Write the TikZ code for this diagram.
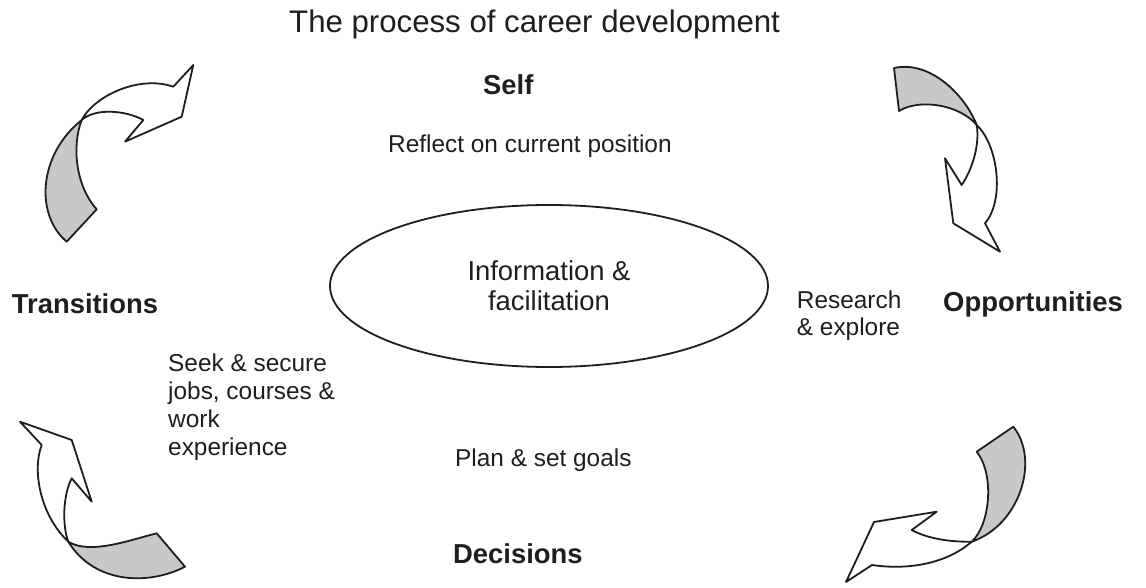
\documentclass[tikz,border=0pt]{standalone}
\usepackage{fontspec}
\setmainfont{Liberation Sans}
\usetikzlibrary{shapes.geometric}
\definecolor{tailgray}{RGB}{200,200,200}
\definecolor{ink}{RGB}{30,30,30}
\begin{document}
\begin{tikzpicture}[x=1pt,y=-1pt,
  ribbon/.style={draw=ink, line width=1.8pt, line join=round},
  back/.style={ribbon, fill=tailgray},
  front/.style={ribbon, fill=white},
  lbl/.style={anchor=base west, inner sep=0pt, text=ink, font=\fontsize{27.4}{32}\selectfont\bfseries},
  body/.style={anchor=base west, inner sep=0pt, text=ink, font=\fontsize{24.4}{27.8}\selectfont},
]
\useasboundingbox (0,0) rectangle (1146,588);

% texts
\node[anchor=base west, inner sep=0pt, text=ink, font=\fontsize{31.2}{36}\selectfont] (title) at (289,33) {The process of career development};
\node[lbl] (self) at (483,95) {Self};
\node[body] (reflect) at (388,153) {Reflect on current position};
\node[draw=ink, line width=1.8pt, ellipse, minimum width=438pt, minimum height=162pt, inner sep=0pt, align=center, text=ink, font=\fontsize{27.4}{30}\selectfont] (info) at (549,286) {Information \&\\facilitation};
\node[lbl] (trans) at (11.7,313) {Transitions};
\node[body] (seek) at (168,371.7) {\begin{tabular}[t]{@{}l@{}}Seek \& secure\\jobs, courses \&\\work\\experience\end{tabular}};
\node[body] (research) at (796.7,308) {\begin{tabular}[t]{@{}l@{}}Research\\\& explore\end{tabular}};
\node[lbl] (opp) at (943,311.7) {Opportunities};
\node[body] (plan) at (455,466.7) {Plan \& set goals};
\node[lbl] (dec) at (453,563) {Decisions};

% arrow top-left
\draw[back] (66.7,241.7) .. controls (35,215) and (38,155) .. (81.7,120) .. controls (72,145) and (75,185) .. (96.7,209.3) -- cycle;
\draw[front] (81.7,120) .. controls (95,95) and (140,75) .. (173.3,86.7) -- (193.3,65) -- (181.7,116.7) -- (125,141.7) -- (143.3,120) .. controls (125,110) and (95,108) .. (81.7,120) -- cycle;

% arrow top-right
\draw[back] (894,68) .. controls (930,60) and (965,95) .. (976.7,125) .. controls (960,105) and (920,98) .. (899,111) -- cycle;
\draw[front] (976.7,125) .. controls (998,145) and (1005,200) .. (985,223.3) -- (1000,251.7) -- (953.3,223.3) -- (945,158.3) -- (961.7,185) .. controls (972,170) and (980,145) .. (976.7,125) -- cycle;

% arrow bottom-left
\draw[back] (68.3,541.7) .. controls (90,555) and (130,540) .. (156.7,533.3) -- (185,566.7) .. controls (150,585) and (95,585) .. (68.3,541.7) -- cycle;
\draw[front] (68.3,541.7) .. controls (40,515) and (32,470) .. (41.7,445) -- (20,421.7) -- (71.7,440) -- (91.7,501.7) -- (71.7,478.3) .. controls (63,495) and (62,525) .. (68.3,541.7) -- cycle;

% arrow bottom-right
\draw[back] (976.7,451.7) -- (1013.3,426.7) .. controls (1040,460) and (1020,525) .. (971.7,541.7) .. controls (990,525) and (995,475) .. (976.7,451.7) -- cycle;
\draw[front] (971.7,541.7) .. controls (945,565) and (905,570) .. (872,565) -- (846,582) -- (874,522) -- (936.7,511.7) -- (911.7,530) .. controls (930,540) and (955,542) .. (971.7,541.7) -- cycle;
\end{tikzpicture}
\end{document}
